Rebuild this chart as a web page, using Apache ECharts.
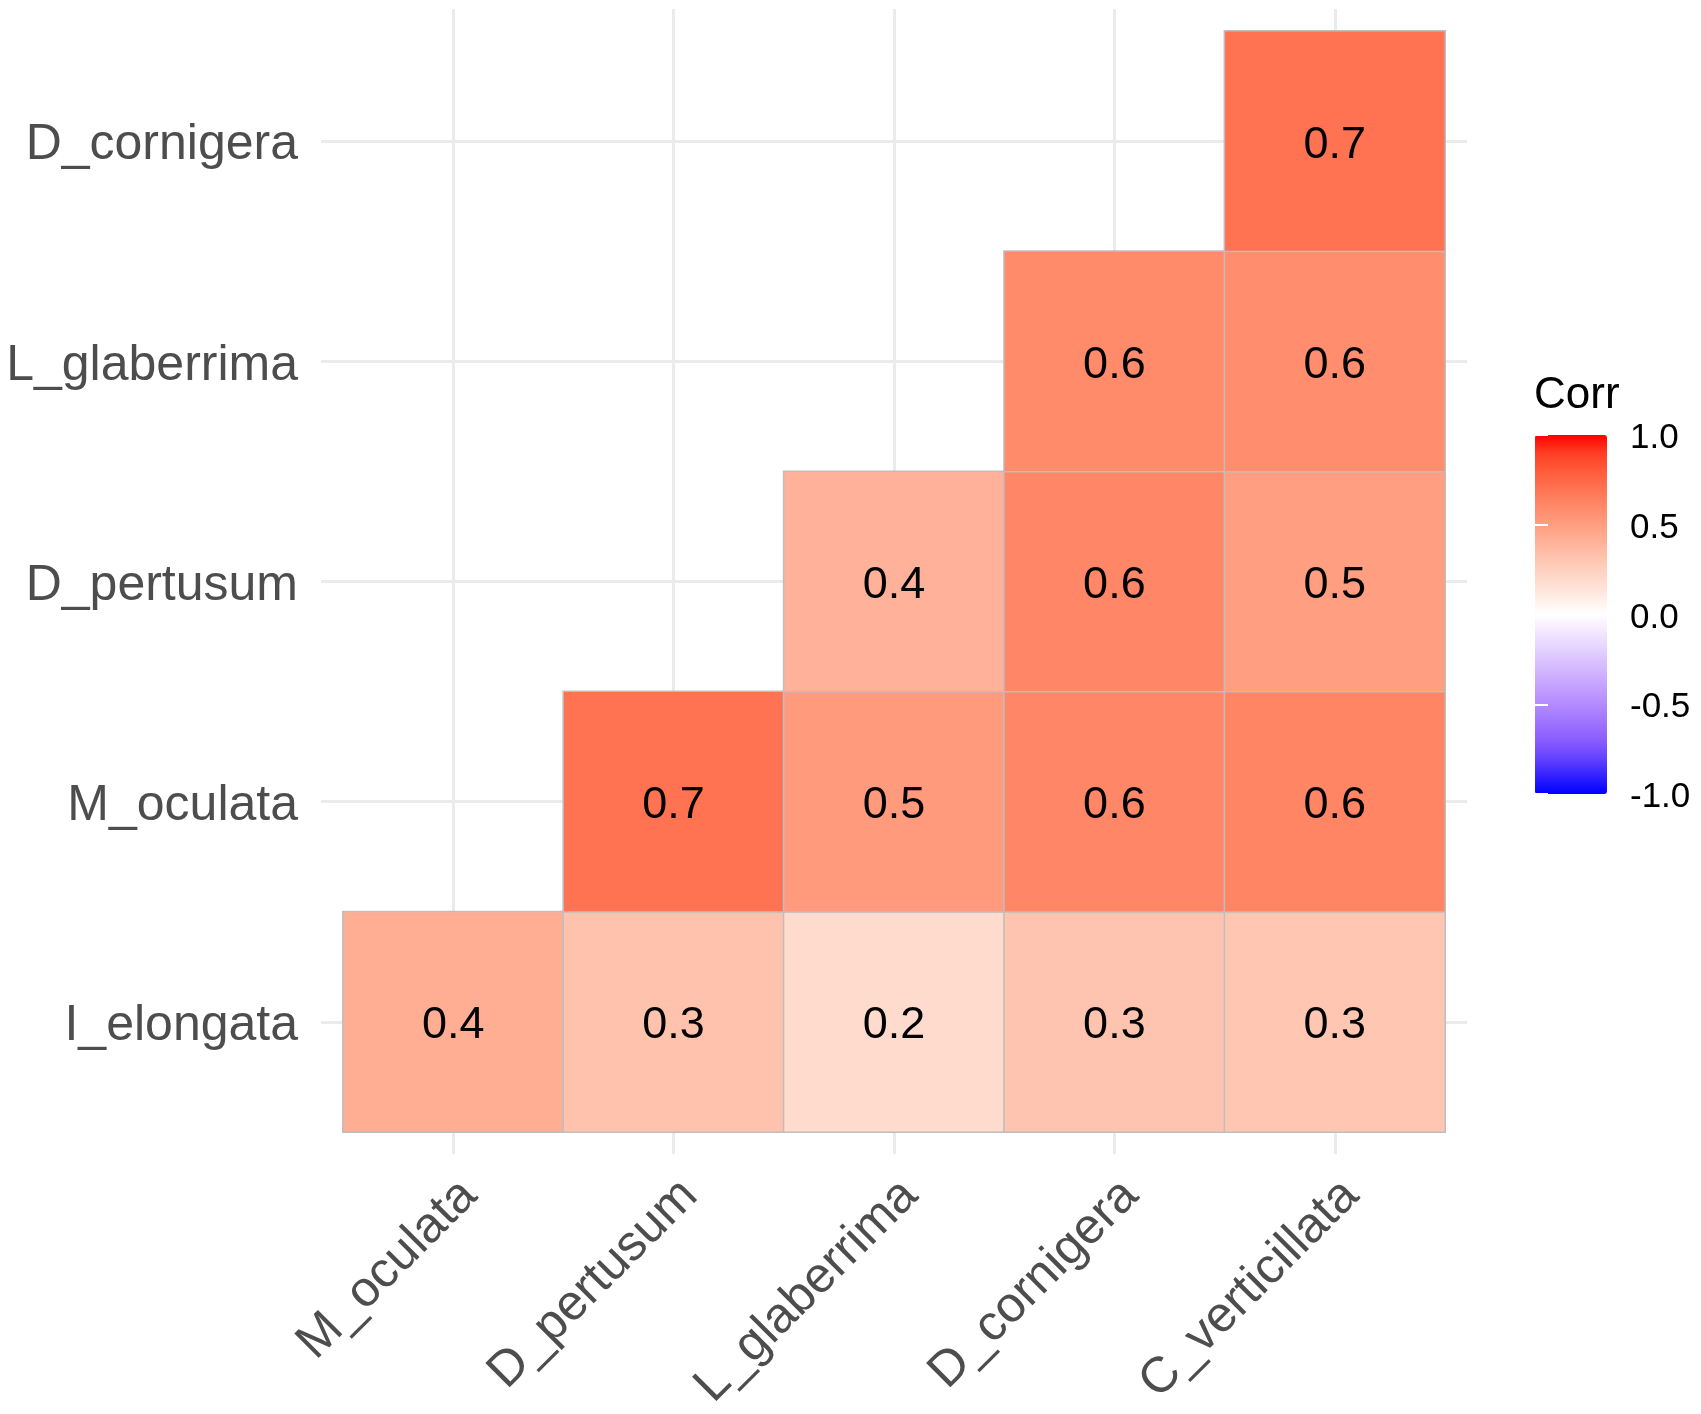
<!doctype html>
<html>
<head>
    <meta charset="utf8">
    <title>Corr</title>
    <script src="https://cdn.jsdelivr.net/npm/echarts@6.0.0/dist/echarts.min.js"></script>
    <style>
        html, body { margin: 0; padding: 0; background: #fff; }
        #main { width: 1701px; height: 1414px; }
    </style>
</head>
<body>
<div id="main"></div>
<script type="text/javascript">
// x categories (left to right), y categories (bottom to top)
var xCats = ['M_oculata', 'D_pertusum', 'L_glaberrima', 'D_cornigera', 'C_verticillata'];
var yCats = ['I_elongata', 'M_oculata', 'D_pertusum', 'L_glaberrima', 'D_cornigera'];

// one row per y category, null = empty cell (upper triangle)
var rowIElongata  = [0.42, 0.32, 0.19, 0.31, 0.30];
var rowMOculata   = [null, 0.70, 0.52, 0.61, 0.62];
var rowDPertusum  = [null, null, 0.40, 0.61, 0.50];
var rowLGlaberrima = [null, null, null, 0.59, 0.58];
var rowDCornigera = [null, null, null, null, 0.70];

var rows = [rowIElongata, rowMOculata, rowDPertusum, rowLGlaberrima, rowDCornigera];
var cells = [];
for (var j = 0; j < rows.length; ++j) {
    for (var i = 0; i < rows[j].length; ++i) {
        if (rows[j][i] !== null) cells.push([i, j, rows[j][i]]);
    }
}

// blue - white - red, sampled in Lab like ggplot's gradient2
var rampColors = [
    '#0000FF', '#3221FF', '#6542FF', '#895DFF', '#9E74FF', '#B38BFF', '#C3A2FF', '#D4B9FF', '#E3D0FF', '#F1E7FF',
    '#FFFFFF',
    '#FFECE5', '#FFD9CB', '#FFC6B2', '#FFB299', '#FF9E81', '#FF8969', '#FF7352', '#FF5B3A', '#FF3E22', '#FF0000'
];

var font = "'Liberation Sans', Arial, sans-serif";
var gridColor = '#ebebeb';

var myChart = echarts.init(document.getElementById('main'), null, { renderer: 'canvas' });

var hiddenAxis = {
    axisLine: { show: false },
    axisTick: { show: false },
    axisLabel: { show: false },
    splitLine: { show: false }
};

function lineAxis(idx) {
    return {
        type: 'value', gridIndex: idx, min: 0.4, max: 5.6,
        splitNumber: 5, minInterval: 1, maxInterval: 1,
        axisLine: { show: false },
        axisTick: { show: false },
        axisLabel: { show: false },
        splitLine: {
            show: true, showMinLine: false, showMaxLine: false,
            lineStyle: { color: gridColor, width: 3 }
        }
    };
}

var option = {
    backgroundColor: '#ffffff',
    animation: false,
    textStyle: { fontFamily: font },
    title: {
        text: 'Corr',
        left: 1534,
        top: 374,
        padding: 0,
        textStyle: { fontSize: 44, fontWeight: 'normal', color: '#000000', fontFamily: font }
    },
    grid: [
        // tiles
        { left: 343, top: 31, width: 1102, height: 1101 },
        // panel with grid lines
        { left: 321, top: 9, width: 1146, height: 1145 },
        // colour bar axis
        { left: 1535, top: 435, width: 72, height: 359 },
        // rotated x labels
        { left: 359, top: 31, width: 1102, height: 1101 }
    ],
    xAxis: [
        Object.assign({ type: 'category', gridIndex: 0, data: xCats }, hiddenAxis),
        lineAxis(1),
        Object.assign({ type: 'value', gridIndex: 2 }, hiddenAxis),
        {
            type: 'category', gridIndex: 3, data: xCats,
            axisLine: { show: false },
            axisTick: { show: false },
            splitLine: { show: false },
            axisLabel: { rotate: 45, fontSize: 50, color: '#4d4d4d', margin: 60, fontFamily: font, interval: 0 }
        }
    ],
    yAxis: [
        {
            type: 'category', gridIndex: 0, data: yCats,
            axisLine: { show: false },
            axisTick: { show: false },
            splitLine: { show: false },
            axisLabel: {
                margin: 45,
                formatter: function (v) { return '{t|' + v + '}'; },
                rich: { t: { fontSize: 50, color: '#4d4d4d', fontFamily: font, padding: [9, 0, 0, 0] } }
            }
        },
        lineAxis(1),
        {
            type: 'value', gridIndex: 2, min: -1, max: 1, interval: 0.5, position: 'right', z: 10,
            axisLine: { show: false },
            axisTick: { show: true, inside: true, length: 13, lineStyle: { color: '#ffffff', width: 2 } },
            axisLabel: {
                margin: 23,
                formatter: function (v) { return '{t|' + v.toFixed(1) + '}'; },
                rich: { t: { fontSize: 35, color: '#000000', fontFamily: font, padding: [7, 0, 0, 0] } }
            },
            splitLine: { show: false }
        },
        {
            type: 'value', gridIndex: 2, min: -1, max: 1, interval: 0.5, position: 'left', z: 10,
            axisLine: { show: false },
            axisTick: { show: true, inside: true, length: 13, lineStyle: { color: '#ffffff', width: 2 } },
            axisLabel: { show: false },
            splitLine: { show: false }
        },
        Object.assign({ type: 'category', gridIndex: 3, data: yCats }, hiddenAxis)
    ],
    visualMap: {
        type: 'continuous',
        min: -1,
        max: 1,
        dimension: 2,
        seriesIndex: 0,
        calculable: false,
        orient: 'vertical',
        left: 1535,
        top: 435,
        padding: 0,
        itemWidth: 72,
        itemHeight: 359,
        text: null,
        inRange: { color: rampColors }
    },
    series: [{
        type: 'heatmap',
        xAxisIndex: 0,
        yAxisIndex: 0,
        data: cells,
        itemStyle: { borderColor: '#bebebe', borderWidth: 1.5 },
        label: {
            show: true,
            fontSize: 45,
            color: '#000000',
            fontFamily: font,
            offset: [0, 4],
            formatter: function (p) { return p.value[2].toFixed(1); }
        },
        emphasis: { disabled: true }
    }]
};
myChart.setOption(option);
</script>
</body>
</html>
